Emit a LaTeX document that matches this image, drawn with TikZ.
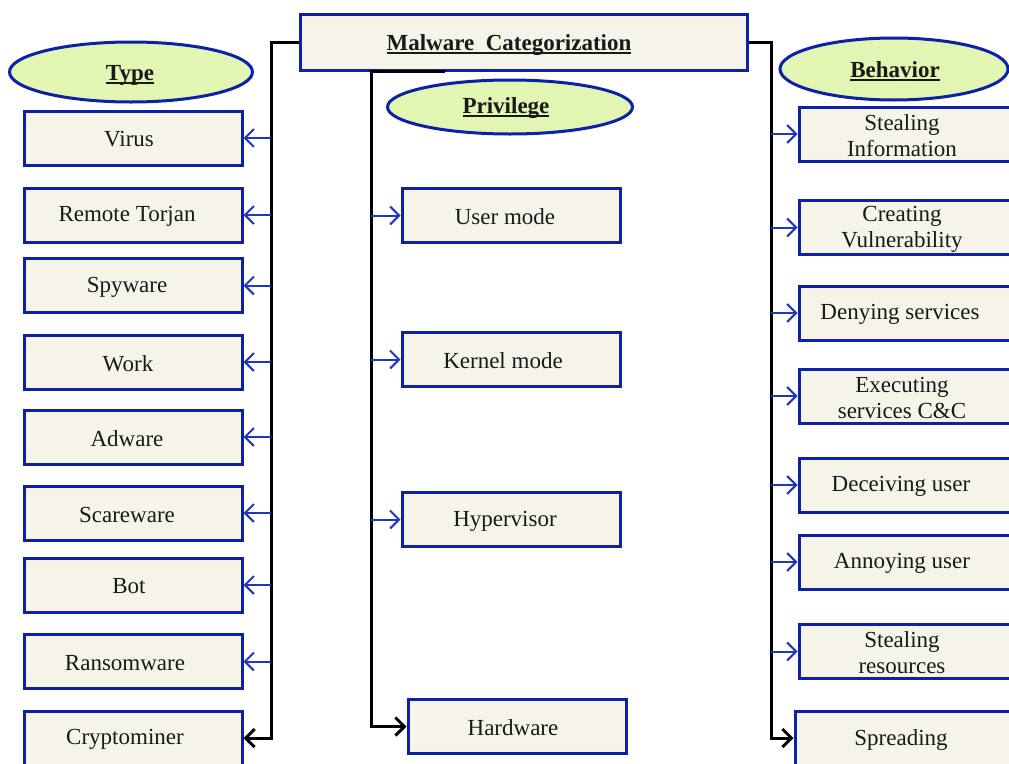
\documentclass[tikz,border=0pt]{standalone}
\usepackage{fontspec}
\setmainfont{Liberation Serif}
\usetikzlibrary{arrows.meta,shapes.geometric}
\definecolor{bordblue}{RGB}{12,32,168}
\definecolor{arrblue}{RGB}{30,55,190}
\definecolor{cream}{RGB}{246,244,232}
\definecolor{lgreen}{RGB}{226,245,178}
\definecolor{txtc}{RGB}{25,25,25}
\tikzset{
  box/.style={draw=bordblue, line width=3pt, fill=cream, minimum width=218pt, minimum height=54pt, inner sep=0pt},
  bbox/.style={box, minimum width=232pt},
  txt/.style={text=txtc, align=center, inner sep=0pt, font=\fontsize{23}{26}\selectfont},
  hd/.style={txt, font=\fontsize{23}{26}\selectfont\bfseries},
  oval/.style={ellipse, draw=bordblue, line width=3pt, fill=lgreen, inner sep=0pt},
  blk/.style={draw=black, line width=3pt},
  blkarrow/.style={blk, -{Straight Barb[length=9pt,width=18pt,line width=3pt]}},
  barrow/.style={draw=arrblue, line width=2pt, -{Straight Barb[length=9pt,width=18pt,line width=2pt]}}
}
\newcommand\hdu[1]{\setbox0\hbox{#1}\rlap{\usebox0}\rule[-3.5pt]{\wd0}{1.6pt}}
\newcommand\bx[6]{\node[#1] (#2) at (#3,#4) {}; \node[txt] (#2-t) at ([xshift=#5,yshift=-1.5pt]#2.center) {#6};}
\begin{document}
\begin{tikzpicture}[x=1pt,y=-1pt]
\clip (0,0) rectangle (1009,763);
\fill[white] (0,0) rectangle (1009,763);
% trunk coordinates
\coordinate (L) at (271,0);
\coordinate (P) at (371,0);
\coordinate (R) at (771,0);
\coordinate (pstart) at (445,71);
% main
\node[box, minimum width=447pt, minimum height=56pt] (main) at (523.5,42) {};
\node[hd, anchor=base] (main-t) at (509,50) {\hdu{Malware\ \ Categorization}};
% ellipses
\node[oval, minimum width=243pt, minimum height=60pt] (type) at (131,72) {};
\node[hd, anchor=base] (type-t) at (130,80) {\hdu{Type}};
\node[oval, minimum width=245pt, minimum height=54pt] (priv) at (510,107) {};
\node[hd, anchor=base] (priv-t) at (506,113) {\hdu{Privilege}};
\node[oval, minimum width=228pt, minimum height=62pt] (beh) at (894,69) {};
\node[hd, anchor=base] (beh-t) at (895,77) {\hdu{Behavior}};
% left column
\bx{box}{virus}{133}{138}{-4pt}{Virus}
\bx{box}{remote}{133}{215}{-6pt}{Remote Torjan}
\bx{box}{spy}{133}{285.5}{-6pt}{Spyware}
\bx{box}{work}{133}{362}{-5pt}{Work}
\bx{box}{adware}{133}{437}{-6pt}{Adware}
\bx{box}{scare}{133}{513}{-6pt}{Scareware}
\bx{box}{bot}{133}{585}{-4pt}{Bot}
\bx{box}{ransom}{133}{661.5}{-8pt}{Ransomware}
\bx{box}{crypto}{133}{738}{-8pt}{Cryptominer}
% privilege column
\bx{box}{user}{511}{215.5}{-6pt}{User mode}
\bx{box}{kernel}{511}{359.5}{-8pt}{Kernel mode}
\bx{box}{hyper}{511}{519.5}{-6pt}{Hypervisor}
\bx{box}{hardware}{517}{726.5}{-4pt}{Hardware}
% behavior column
\bx{bbox}{stinfo}{915}{134}{-13pt}{Stealing\\Information}
\bx{bbox}{creat}{915}{227.5}{-13pt}{Creating\\Vulnerability}
\bx{bbox}{deny}{915}{313}{-15pt}{Denying services}
\bx{bbox}{exec}{915}{396}{-13pt}{Executing\\services C\&C}
\bx{bbox}{deceive}{915}{485}{-14pt}{Deceiving user}
\bx{bbox}{annoy}{915}{562}{-13pt}{Annoying user}
\bx{bbox}{stres}{915}{651.5}{-13pt}{Stealing\\resources}
\bx{bbox}{spread}{911}{738}{-10pt}{Spreading}
% trunks
\draw[blkarrow] (main.west) -| (L |- crypto.east) -- (crypto.east);
\draw[blkarrow] (pstart) -- (P |- pstart) |- (hardware.west);
\draw[blkarrow] (main.east) -| (R |- spread.west) -- (spread.west);
% blue arrows
\foreach \n in {virus,remote,spy,work,adware,scare,bot,ransom}
  \draw[barrow] (L |- \n.east) -- (\n.east);
\foreach \n in {user,kernel,hyper}
  \draw[barrow] (P |- \n.west) -- (\n.west);
\foreach \n in {stinfo,creat,deny,exec,deceive,annoy,stres}
  \draw[barrow] (R |- \n.west) -- (\n.west);
\end{tikzpicture}
\end{document}
